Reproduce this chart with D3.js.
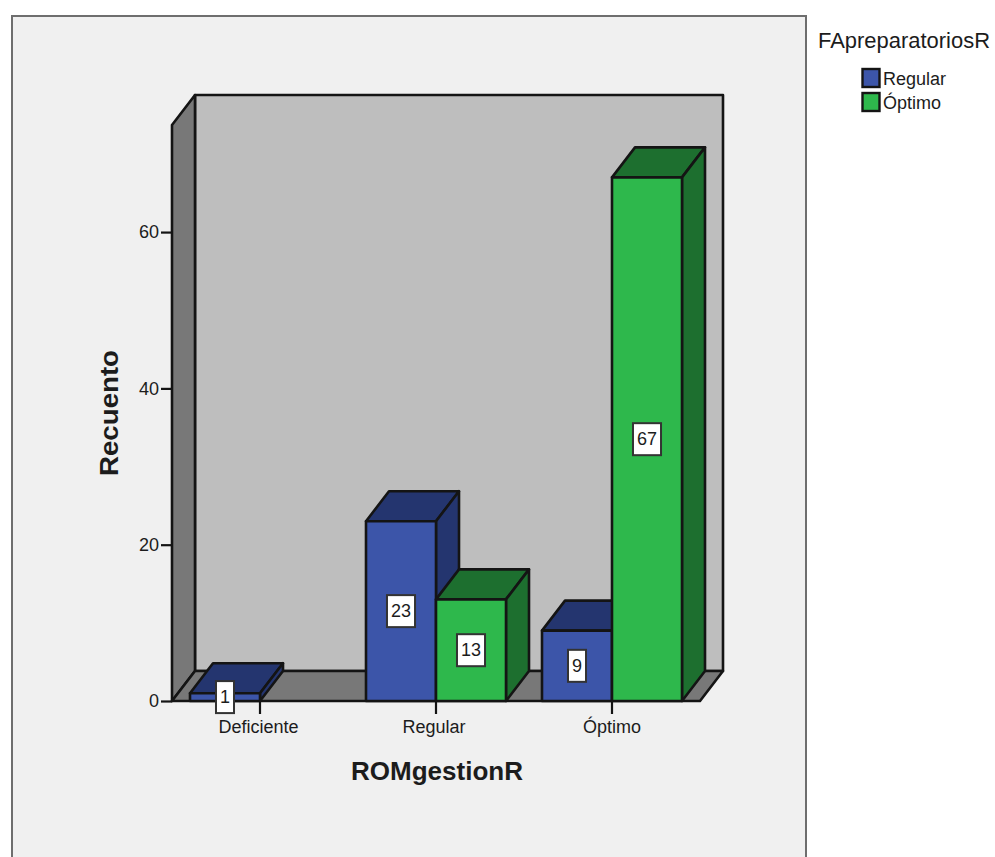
<!DOCTYPE html>
<html>
<head>
<meta charset="utf-8">
<script src="https://cdn.jsdelivr.net/npm/d3@7/dist/d3.min.js"></script>
<style>
html,body{margin:0;padding:0;background:#fff;overflow:hidden}
svg{display:block}
text{font-family:"Liberation Sans",Arial,sans-serif;fill:#1c1c1c}
</style>
</head>
<body>
<svg id="chart" width="995" height="857"></svg>
<script>
// Clustered 3D bar chart of counts per ROMgestionR category
const categories = ["Deficiente", "Regular", "Óptimo"];
const seriesNames = ["Regular", "Óptimo"];
const regularCounts = [1, 23, 9];
const optimoCounts = [null, 13, 67];
const yTicks = [0, 20, 40, 60];
const yMax = 73.7;

const frontColors = ["#3c55a9", "#2eb84c"];
const topColors = ["#24356f", "#1d6f2f"];
const sideColors = ["#24356f", "#1d6f2f"];
const ink = "#141414";

const svg = d3.select("#chart");
const depth = {dx: 23, dy: -30};

const x = d3.scaleBand().domain(categories).range([172, 700]);
const y = d3.scaleLinear().domain([0, yMax]).range([701, 125]);
const barX = d3.scaleBand().domain(seriesNames).range([0, 140]);
const pad = (x.bandwidth() - 140) / 2;

const path = pts => d3.line()(pts) + "Z";
const shape = (pts, fill, sw = 2.6) => svg.append("path")
  .attr("d", path(pts)).attr("fill", fill)
  .attr("stroke", ink).attr("stroke-width", sw).attr("stroke-linejoin", "round");

// Outer chart panel
svg.append("rect").attr("x", 12).attr("y", 16).attr("width", 794).attr("height", 860)
  .attr("fill", "#f0f0f0").attr("stroke", "#6e6e6e").attr("stroke-width", 2);

// Walls and floor of the 3D box
const [x0, x1] = x.range();
const yBase = y(0), yTop = y(yMax);
shape([[x0 + depth.dx, yTop + depth.dy], [x1 + depth.dx, yTop + depth.dy],
       [x1 + depth.dx, yBase + depth.dy], [x0 + depth.dx, yBase + depth.dy]], "#bebebe");
shape([[x0, yTop], [x0 + depth.dx, yTop + depth.dy],
       [x0 + depth.dx, yBase + depth.dy], [x0, yBase]], "#787878");
shape([[x0, yBase], [x0 + depth.dx, yBase + depth.dy],
       [x1 + depth.dx, yBase + depth.dy], [x1, yBase]], "#787878");

// Y axis ticks and labels
const yAxis = svg.append("g").attr("transform", `translate(${x0},0)`)
  .call(d3.axisLeft(y).tickValues(yTicks).tickSize(11).tickPadding(2).tickFormat(d3.format("d")));
yAxis.select(".domain").remove();
yAxis.selectAll("line").attr("stroke", ink).attr("stroke-width", 2.2);
yAxis.selectAll("text").attr("font-size", 18).attr("fill", "#1c1c1c")
  .style("font-family", '"Liberation Sans",Arial,sans-serif');

// X axis ticks and labels
const xAxis = svg.append("g").attr("transform", `translate(0,${yBase})`)
  .call(d3.axisBottom(x).tickSize(13).tickPadding(6));
xAxis.select(".domain").remove();
xAxis.selectAll("line").attr("stroke", ink).attr("stroke-width", 2.2);
xAxis.selectAll("text").attr("font-size", 18).attr("fill", "#1c1c1c")
  .attr("dx", (d, i) => [-1.5, -2, 0][i])
  .style("font-family", '"Liberation Sans",Arial,sans-serif');

// Bars, drawn back to front so the later series overlaps the earlier one
const labels = [];
[regularCounts, optimoCounts].forEach((values, s) => {
  values.forEach((v, c) => {
    if (v === null) return;
    const left = x(categories[c]) + pad + barX(seriesNames[s]);
    const right = left + barX.bandwidth();
    const top = y(v);
    shape([[left, top], [left + depth.dx, top + depth.dy],
           [right + depth.dx, top + depth.dy], [right, top]], topColors[s]);
    shape([[right, top], [right + depth.dx, top + depth.dy],
           [right + depth.dx, yBase + depth.dy], [right, yBase]], sideColors[s]);
    shape([[left, top], [right, top], [right, yBase], [left, yBase]], frontColors[s]);
    labels.push({v, cx: (left + right) / 2, cy: (top + yBase) / 2});
  });
});

// Value labels in white boxes
labels.forEach(d => {
  const g = svg.append("g");
  const t = g.append("text").attr("x", d.cx).attr("y", d.cy + 1)
    .attr("text-anchor", "middle").attr("dominant-baseline", "middle")
    .attr("font-size", 18).text(d.v);
  const w = t.node().getComputedTextLength() + 8;
  g.insert("rect", "text").attr("x", d.cx - w / 2).attr("y", d.cy - 16)
    .attr("width", w).attr("height", 32)
    .attr("fill", "#fff").attr("stroke", "#333").attr("stroke-width", 2);
});

// Axis titles
svg.append("text").attr("x", 437).attr("y", 780).attr("text-anchor", "middle")
  .attr("font-size", 25).attr("font-weight", "bold").attr("fill", "#111")
  .attr("textLength", 172).attr("lengthAdjust", "spacingAndGlyphs").text("ROMgestionR");
svg.append("text").attr("transform", "translate(118,413) rotate(-90)").attr("text-anchor", "middle")
  .attr("font-size", 25).attr("font-weight", "bold").attr("fill", "#111")
  .attr("textLength", 126).attr("lengthAdjust", "spacingAndGlyphs").text("Recuento");

// Legend
svg.append("text").attr("x", 818).attr("y", 48).attr("font-size", 21.5)
  .attr("textLength", 172).attr("lengthAdjust", "spacingAndGlyphs").text("FApreparatoriosR");
seriesNames.forEach((name, i) => {
  const ly = 69 + i * 24;
  svg.append("rect").attr("x", 862.5).attr("y", ly).attr("width", 17).attr("height", 18)
    .attr("fill", frontColors[i]).attr("stroke", ink).attr("stroke-width", 2.4);
  svg.append("text").attr("x", 883).attr("y", ly + 16).attr("font-size", 18).text(name);
});
</script>
</body>
</html>
